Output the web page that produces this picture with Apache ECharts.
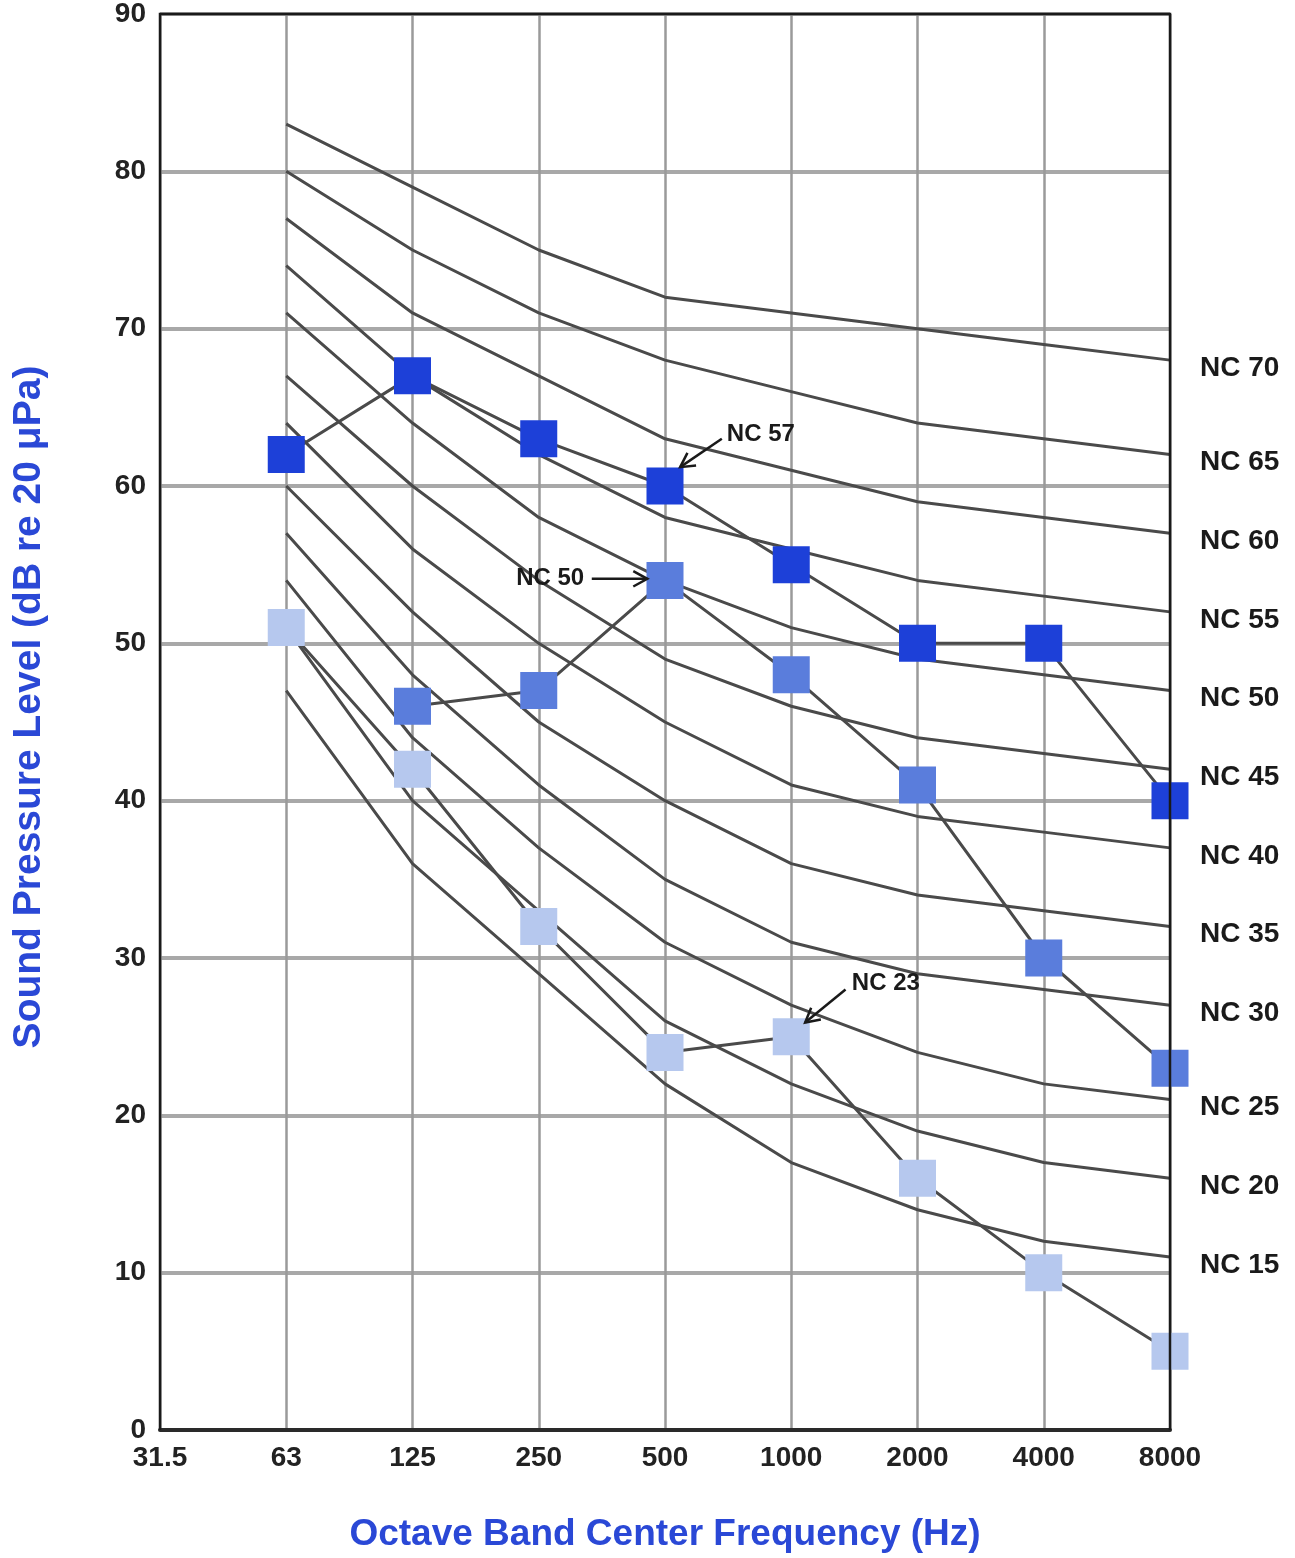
<!DOCTYPE html>
<html><head><meta charset="utf-8">
<script src="https://cdn.jsdelivr.net/npm/echarts@6/dist/echarts.min.js"></script>
<style>html,body{margin:0;padding:0;background:#fff}#c{width:1295px;height:1558px}</style>
</head><body><div id="c"></div>
<script>
// ---- data ----
const freqLabels = ['31.5','63','125','250','500','1000','2000','4000','8000'];
const ncNames = ['NC 15','NC 20','NC 25','NC 30','NC 35','NC 40','NC 45','NC 50','NC 55','NC 60','NC 65','NC 70'];
const nc15 = [null,47,36,29,22,17,14,12,11];
const nc20 = [null,51,40,33,26,22,19,17,16];
const nc25 = [null,54,44,37,31,27,24,22,21];
const nc30 = [null,57,48,41,35,31,29,28,27];
const nc35 = [null,60,52,45,40,36,34,33,32];
const nc40 = [null,64,56,50,45,41,39,38,37];
const nc45 = [null,67,60,54,49,46,44,43,42];
const nc50 = [null,71,64,58,54,51,49,48,47];
const nc55 = [null,74,67,62,58,56,54,53,52];
const nc60 = [null,77,71,67,63,61,59,58,57];
const nc65 = [null,80,75,71,68,66,64,63,62];
const nc70 = [null,83,79,75,72,71,70,69,68];
const ncCurves = [nc15,nc20,nc25,nc30,nc35,nc40,nc45,nc50,nc55,nc60,nc65,nc70];

const spectrumNC57 = [null,62,67,63,60,55,50,50,40];
const spectrumNC50 = [null,null,46,47,54,48,41,30,23];
const spectrumNC23 = [null,51,42,32,24,25,16,10,5];

const annotationTexts = ['NC 57','NC 50','NC 23'];

// ---- layout / style (not data) ----
const FONT = "'Liberation Sans', Arial, sans-serif";
// annotation placement in data units: text anchor, arrow tail, arrow head
const annotationLayout = [
  {text:[4.49,63.3], tail:[4.45,63.0], head:[4.12,61.2], align:'left'},
  {text:[3.36,54.1], tail:[3.42,54.1], head:[3.86,54.1], align:'right'},
  {text:[5.48,28.4], tail:[5.43,28.0], head:[5.11,25.9], align:'left'}
];

const toPairs = arr => arr.map((v,i)=>[i, v]);

const chart = echarts.init(document.getElementById('c'), null, {renderer:'canvas'});

const series = [];
ncCurves.forEach((arr, i) => {
  series.push({
    type:'line', name: ncNames[i], data: toPairs(arr),
    symbol:'none', z:2,
    lineStyle:{color:'#4a4a4a', width:3},
    endLabel:{show:true, formatter: ncNames[i], distance:30, offset:[0,8],
      fontSize:28, fontWeight:'bold', color:'#1a1a1a', fontFamily:FONT}
  });
});
const spectra = [
  {d:spectrumNC57, c:'#1d40d8'},
  {d:spectrumNC50, c:'#5a7ddc'},
  {d:spectrumNC23, c:'#b6c8ee'}
];
spectra.forEach(s => {
  series.push({
    type:'line', data: toPairs(s.d), z:4,
    symbol:'rect', symbolSize:37,
    itemStyle:{color:s.c, borderWidth:0},
    lineStyle:{color:'#4a4a4a', width:3}
  });
});

chart.setOption({
  animation:false,
  backgroundColor:'#fff',
  grid:{left:160, right:125, top:12, bottom:126, show:false},
  xAxis:{
    type:'value', min:0, max:8, interval:1,
    name:'Octave Band Center Frequency (Hz)', nameLocation:'middle', nameGap:86,
    nameTextStyle:{fontSize:37, fontWeight:'bold', color:'#2a48d6', fontFamily:FONT},
    axisLine:{show:true, lineStyle:{color:'#2a2a2a', width:4}},
    axisTick:{show:false},
    axisLabel:{formatter: v => freqLabels[v], fontSize:28, fontWeight:'bold', color:'#222', margin:14, fontFamily:FONT},
    splitLine:{show:true, lineStyle:{color:'#9a9a9a', width:2.5}}
  },
  yAxis:{
    type:'value', min:0, max:90, interval:10,
    name:'Sound Pressure Level (dB re 20 \u03bcPa)', nameLocation:'middle', nameGap:111,
    nameTextStyle:{fontSize:39, fontWeight:'bold', color:'#2a48d6', fontFamily:FONT, padding:[0,0,0,30]},
    axisLine:{show:true, lineStyle:{color:'#1a1a1a', width:2}},
    axisTick:{show:false},
    axisLabel:{fontSize:28, fontWeight:'bold', color:'#222', margin:14, fontFamily:FONT},
    splitLine:{show:true, lineStyle:{color:'#a8a8a8', width:4}}
  },
  series: series
});

// frame and annotations with arrows, positioned through the chart's scales
function drawOverlay(){
  const els = [];
  const tl = chart.convertToPixel({gridIndex:0}, [0, 90]);
  const br = chart.convertToPixel({gridIndex:0}, [8, 0]);
  els.push({type:'polyline', z:9, silent:true,
    shape:{points:[[tl[0], br[1]], [tl[0], tl[1]], [br[0], tl[1]], [br[0], br[1]]]},
    style:{stroke:'#1a1a1a', lineWidth:2.5, fill:null}});
  annotationLayout.forEach((a, i) => {
    const tp = chart.convertToPixel({gridIndex:0}, a.text);
    const t = chart.convertToPixel({gridIndex:0}, a.tail);
    const h = chart.convertToPixel({gridIndex:0}, a.head);
    els.push({type:'text', x:tp[0], y:tp[1], z:10,
      style:{text:annotationTexts[i], fontSize:24, fontWeight:'bold', fill:'#1a1a1a', fontFamily:FONT,
        align:a.align, verticalAlign:'middle'}});
    els.push({type:'line', z:10, shape:{x1:t[0], y1:t[1], x2:h[0], y2:h[1]}, style:{stroke:'#1a1a1a', lineWidth:2.5}});
    const ang = Math.atan2(h[1]-t[1], h[0]-t[0]);
    const L = 16, spread = 0.5;
    const p1 = [h[0]-L*Math.cos(ang-spread), h[1]-L*Math.sin(ang-spread)];
    const p2 = [h[0]-L*Math.cos(ang+spread), h[1]-L*Math.sin(ang+spread)];
    els.push({type:'polyline', z:10, shape:{points:[p1, h, p2]}, style:{stroke:'#1a1a1a', lineWidth:2.5, fill:null}});
  });
  chart.setOption({graphic:{elements:els}});
}
drawOverlay();
</script>
</body></html>
